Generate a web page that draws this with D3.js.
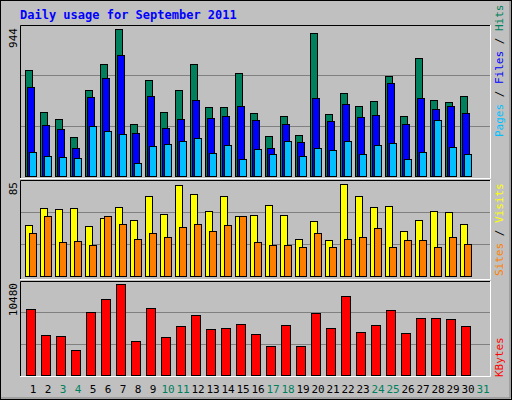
<!DOCTYPE html>
<html><head><meta charset="utf-8">
<script src="https://cdn.jsdelivr.net/npm/d3@7"></script>
<style>body{margin:0;background:#fff}svg text{font-family:"DejaVu Sans Mono",monospace}</style>
</head><body><div id="chart"></div>
<script>
// Daily values
const days = d3.range(1, 32);
const weekend = [3, 4, 10, 11, 17, 18, 24, 25, 31];
const hits  = [681,412,367,252,553,720,944,335,617,412,553,720,444,444,662,406,258,387,265,918,399,534,451,483,643,387,758,489,476,515];
const files = [572,329,303,182,508,630,777,278,515,310,367,489,374,387,451,361,182,335,220,502,355,463,380,393,598,335,502,431,451,406];
const pages = [156,130,124,117,322,290,271,85,194,207,226,246,150,201,111,175,143,226,130,182,169,226,143,201,214,111,156,361,188,143];
const visits = [47,63,62,63,46,54,64,52,74,57,84,76,60,74,55,56,66,56,34,51,33,85,74,64,65,42,52,60,59,48];
const sites  = [40,55,31,32,29,55,48,34,40,36,45,48,42,47,55,31,29,29,27,40,27,34,36,44,27,33,33,27,36,30];
const kbytes = [7601,4607,4491,2879,7255,8753,10480,3916,7716,4376,5643,6910,5298,5413,5873,4722,3340,5758,3340,7140,5413,9098,4952,5758,7486,4837,6565,6565,6449,5643];

const svg = d3.select("#chart").append("svg").attr("width", 512).attr("height", 400);
svg.append("rect").attr("x", 0.5).attr("y", 0.5).attr("width", 511).attr("height", 399)
  .attr("fill", "#c0c0c0").attr("stroke", "#000");
svg.append("line").attr("x1", 1).attr("x2", 510).attr("y1", 398).attr("y2", 398).attr("stroke", "#808080");
svg.append("line").attr("x1", 510).attr("x2", 510).attr("y1", 1).attr("y2", 398).attr("stroke", "#808080");

svg.append("text").attr("x", 20).attr("y", 19).attr("fill", "#0000ff")
  .style("font-size", "12px").style("font-weight", "bold").text("Daily usage for September 2011");

const x = d3.scaleBand().domain(days).range([25, 25 + 15 * 31]);

function panel(y0, y1, max, base, top) {
  svg.append("rect").attr("x", 20).attr("y", y0).attr("width", 471).attr("height", y1 - y0).attr("fill", "#c0c0c0");
  const y = d3.scaleLinear().domain([0, max]).range([base, top]);
  [1 / 3, 2 / 3].forEach(f => {
    const gy = Math.round(base - (base - y0) * f) + 0.5;
    svg.append("line").attr("x1", 21).attr("x2", 490).attr("y1", gy).attr("y2", gy).attr("stroke", "#808080");
  });
  svg.append("path").attr("d", `M20.5,${y1}V${y0 + 0.5}H491`).attr("fill", "none").attr("stroke", "#000");
  svg.append("path").attr("d", `M20,${y1 - 0.5}H490.5V${y0}`).attr("fill", "none").attr("stroke", "#fff");
  return y;
}

function bars(y, vals, dx, w, color) {
  svg.append("g").selectAll("rect").data(vals).join("rect")
    .attr("x", (d, i) => x(i + 1) + dx + 0.5)
    .attr("y", d => Math.round(y(d)) + 0.5)
    .attr("width", w)
    .attr("height", d => y.range()[0] - Math.round(y(d)))
    .attr("fill", color).attr("stroke", "#000");
}

function leftLabel(txt, yTop) {
  svg.append("text").attr("transform", `translate(17,${yTop}) rotate(-90)`)
    .attr("text-anchor", "end").style("font-size", "11px").attr("fill", "#000").text(txt);
}

function rightLabel(parts, yBottom) {
  const t = svg.append("text").attr("transform", `translate(503,${yBottom}) rotate(-90)`)
    .style("font-size", "11px");
  parts.forEach(p => t.append("tspan").attr("fill", p[1]).text(p[0]));
}

// Hits / Files / Pages
const y1 = panel(25, 179, 944, 176, 29);
bars(y1, hits, 0, 7, "#00805c");
bars(y1, files, 2, 7, "#0000ff");
bars(y1, pages, 4, 7, "#00c0ff");
leftLabel("944", 28);
rightLabel([["Pages", "#00c0ff"], [" / ", "#000"], ["Files", "#0000ff"], [" / ", "#000"], ["Hits", "#00805c"]], 137);

// Visits / Sites
const y2 = panel(180, 280, 85, 276, 184);
bars(y2, visits, 0, 7, "#ffff00");
bars(y2, sites, 4, 7, "#ff8000");
leftLabel("85", 182);
rightLabel([["Sites", "#ff8000"], [" / ", "#000"], ["Visits", "#ffff00"]], 276);

// KBytes
const y3 = panel(281, 377, 10480, 375, 284);
bars(y3, kbytes, 1, 9, "#ff0000");
leftLabel("10480", 283);
rightLabel([["KBytes", "#ff0000"]], 377);

// Day labels
svg.append("g").selectAll("text").data(days).join("text")
  .attr("x", d => x(d) + 8).attr("y", 393).attr("text-anchor", "middle")
  .style("font-size", "11px")
  .attr("fill", d => weekend.includes(d) ? "#00805c" : "#000")
  .text(d => d);
</script></body></html>
